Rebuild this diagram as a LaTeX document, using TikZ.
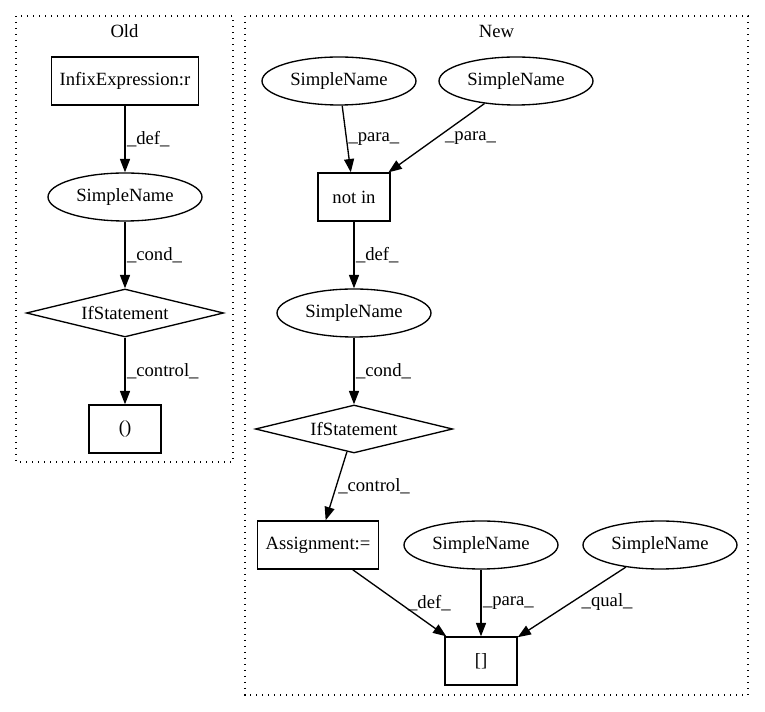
\documentclass[tikz,border=0pt]{standalone}
\usepackage{fontspec}
\setmainfont{Liberation Serif}
\usepackage{tikz}
\usetikzlibrary{shapes,arrows}
\usetikzlibrary{arrows.meta}
\newcommand{\astcluster}[5] {\draw [dash pattern=on 1pt off 3.5pt] (#1,#2) rectangle (#3,#4); \node at ({(#1+#3)/2},#2+15) (#5) {#5};}
\newcommand{\astbox}[3] {\node at (#1) (#2) [rectangle, draw, inner xsep=6pt, minimum width=54pt, minimum height=36pt] {#3};}
\newcommand{\astname}[2] {\node at (#1) (#2) [ellipse, draw, inner sep=0pt, minimum width=115.5pt, minimum height=36pt] {SimpleName};}
\newcommand{\astif}[2] {\node at (#1) (#2) [diamond, draw, aspect=4.1, inner sep=0pt, minimum width=148pt, minimum height=36pt] {IfStatement};}
\newcommand{\astedge}[4][] {\draw [-{Triangle[length=10pt,width=7.5pt]}] (#2) -- (#3) node [midway, right, inner sep=1pt, #1] {#4};}

\begin{document}
\begin{tikzpicture}[x=0.75pt, y=-0.75pt, line width=1pt, font=\fontsize{14pt}{16pt}\selectfont]
\useasboundingbox (0,0) rectangle (765,712);

\astcluster {16}{16}{233}{462} {Old};
\astbox {125,81} {infixr} {InfixExpression:r};
\astname {125,197} {oname};
\astif {125,313} {oif};
\astbox {125,429} {ocall} {()};

\astedge{infixr}{oname}{\_def\_};
\astedge{oname}{oif}{\_cond\_};
\astedge{oif}{ocall}{\_control\_};

\astcluster {245}{16}{748}{695} {New};
\astname {339,81} {nname1};
\astname {516,81} {nname2};
\astbox {354,197} {notin} {not in};
\astname {354,313} {nname3};
\astif {354,429} {nif};
\astbox {318,545} {assign} {Assignment:=};
\astname {481,545} {nname4};
\astname {660,545} {nname5};
\astbox {481,661} {index} {[]};

\astedge{nname1}{notin}{\_para\_};
\astedge[xshift=5pt]{nname2}{notin}{\_para\_};
\astedge{notin}{nname3}{\_def\_};
\astedge{nname3}{nif}{\_cond\_};
\astedge{nif}{assign}{\_control\_};

\astedge[xshift=5pt]{assign}{index}{\_def\_};
\astedge{nname4}{index}{\_para\_};
\astedge[xshift=6pt]{nname5}{index}{\_qual\_};
\end{tikzpicture}
\end{document}
